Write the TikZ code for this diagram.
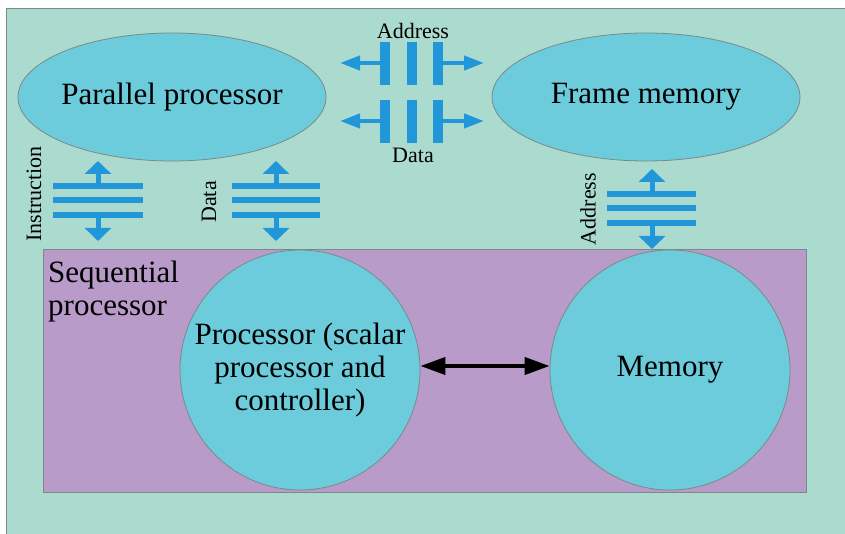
\documentclass[tikz,border=0pt]{standalone}
\usepackage{fontspec}
\setmainfont{Liberation Serif}
\usetikzlibrary{arrows.meta,shapes.geometric}
\definecolor{bgc}{HTML}{ABDBCF}
\definecolor{cyanc}{HTML}{6DCCDB}
\definecolor{purc}{HTML}{B89BC9}
\definecolor{busc}{HTML}{2196D8}
\definecolor{edgec}{HTML}{7A8A8A}
\tikzset{
  big/.style={font=\rmfamily\fontsize{31}{33}\selectfont},
  small/.style={font=\rmfamily\fontsize{22}{24}\selectfont},
  bubble/.style={ellipse,draw=edgec,line width=0.8pt,fill=cyanc,inner sep=0pt},
  busbar/.style={line width=6pt,draw=busc},
  hbusarrow/.style={line width=4pt,draw=busc,-{Triangle[width=14pt,length=20pt]}},
  vbusarrow/.style={line width=5pt,draw=busc,-{Triangle[width=26pt,length=13pt]}},
}
\begin{document}
\begin{tikzpicture}[x=1pt,y=-1pt]
\useasboundingbox (0,0) rectangle (845,534);
\fill[white] (0,0) rectangle (845,534);
\draw[fill=bgc,draw=edgec,line width=0.8pt] (6,8) rectangle (850,540);

% ellipses
\node[bubble,minimum width=308pt,minimum height=128pt] (pp) at (172,97) {};
\node[big] (pptext) at (pp.center) {Parallel processor};
\node[bubble,minimum width=308pt,minimum height=128pt] (fm) at (646,97) {};
\node[big] (fmtext) at (fm.center) {Frame memory};

% sequential processor
\node[draw=edgec,line width=0.8pt,fill=purc,minimum width=763pt,minimum height=243pt,inner sep=0pt,anchor=north west] (sp) at (43,249) {};
\node[big,align=left,anchor=north west,inner sep=0pt] (splabel) at (48,261) {Sequential\\processor};

\node[circle,draw=edgec,line width=0.8pt,fill=cyanc,minimum size=240pt,inner sep=0pt] (proc) at (300,370) {};
\node[big,align=center] (proctext) at (proc.center) {Processor (scalar\\processor and\\controller)};
\node[circle,draw=edgec,line width=0.8pt,fill=cyanc,minimum size=240pt,inner sep=0pt] (mem) at (670,370) {};
\node[big] (memtext) at (mem.center) {Memory};

\draw[line width=4pt,{Triangle[width=17pt,length=25pt]}-{Triangle[width=17pt,length=25pt]}] ([yshift=4pt]proc.east) -- ([yshift=4pt]mem.west);

% top horizontal buses
\foreach \y in {63,121}{
  \foreach \x in {385,412,438}{
    \draw[line width=10pt,draw=busc] (\x,\y-21) -- (\x,\y+22);
  }
  \draw[hbusarrow] (380,\y) -- (340,\y);
  \draw[hbusarrow] (443,\y) -- (484,\y);
}
\node[small] (addrtop) at (413,31) {Address};
\node[small] (datatop) at (413,155) {Data};

% vertical buses
\foreach \cx/\xa/\xb/\ya/\yb in {98/53/143/186/241, 276/232/320/186/241, 652/607/696/194/249}{
  \draw[busbar] (\xa,\ya) -- (\xb,\ya);
  \draw[busbar] (\xa,\ya+14.5) -- (\xb,\ya+14.5);
  \draw[busbar] (\xa,\ya+29) -- (\xb,\ya+29);
  \draw[vbusarrow] (\cx,\ya) -- (\cx,\ya-25);
  \draw[vbusarrow] (\cx,\ya+29) -- (\cx,\yb);
}
\node[small,rotate=90] (instr) at (34,194) {Instruction};
\node[small,rotate=90] (datav) at (209,202) {Data};
\node[small,rotate=90] (addrv) at (588,209) {Address};
\end{tikzpicture}
\end{document}
